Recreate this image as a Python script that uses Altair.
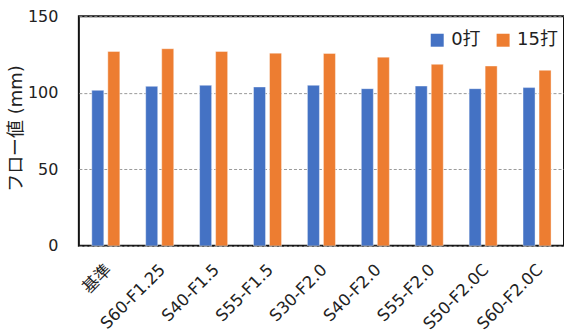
import altair as alt
import pandas as pd

# Mix designs along the x axis
categories = ["基準", "S60-F1.25", "S40-F1.5", "S55-F1.5", "S30-F2.0",
              "S40-F2.0", "S55-F2.0", "S50-F2.0C", "S60-F2.0C"]
series = ["0打", "15打"]
# Flow values (mm) for each series
flow_0 = [101.6, 104.2, 104.9, 103.8, 104.9, 102.7, 104.4, 102.7, 103.4]
flow_15 = [127.0, 128.8, 127.0, 125.9, 125.7, 123.3, 118.6, 117.5, 114.7]
y_ticks = [0, 50, 100, 150]
colors = ["#4472C4", "#ED7D31"]

rows = []
for cat, a, b in zip(categories, flow_0, flow_15):
    rows.append({"配合": cat, "系列": series[0], "フロー値": a})
    rows.append({"配合": cat, "系列": series[1], "フロー値": b})
df = pd.DataFrame(rows)

font = "'DejaVu Sans', 'Noto Sans CJK JP', sans-serif"

chart = (
    alt.Chart(df)
    .mark_bar(stroke="white", strokeWidth=0.8, strokeOpacity=0.5)
    .encode(
        x=alt.X(
            "配合:N",
            sort=categories,
            scale=alt.Scale(paddingInner=0.48, paddingOuter=0.24),
            axis=alt.Axis(
                title=None,
                labelAngle=-45,
                labelAlign="right",
                labelBaseline="middle",
                labelPadding=21,
                labelOffset=3,
                labelFontSize=16.5,
                labelColor="#222222",
                labelFont=font,
                ticks=False,
                domain=False,
                grid=False,
            ),
        ),
        xOffset=alt.XOffset(
            "系列:N", sort=series, scale=alt.Scale(paddingInner=0.25, paddingOuter=0)
        ),
        y=alt.Y(
            "フロー値:Q",
            scale=alt.Scale(domain=[0, 150], nice=False),
            axis=alt.Axis(
                title="フロー値 (mm)",
                values=y_ticks,
                labelFontSize=16,
                labelFont=font,
                labelColor="#222222",
                labelPadding=21,
                ticks=False,
                domain=False,
                grid=True,
                gridDash=[3, 2],
                gridColor="#9a9a9a",
                gridWidth=1,
                titleFont=font,
                titleFontSize=18,
                titleFontWeight="normal",
                titleColor="#222222",
                titleAngle=-90,
                titleX=-62,
                titleY=112,
                titleAlign="center",
                titleBaseline="middle",
            ),
        ),
        color=alt.Color(
            "系列:N",
            sort=series,
            scale=alt.Scale(domain=series, range=colors),
            legend=alt.Legend(
                title=None,
                orient="none",
                legendX=350,
                legendY=15,
                direction="horizontal",
                symbolType="square",
                symbolSize=169,
                symbolStrokeWidth=0,
                symbolOpacity=1,
                labelFont=font,
                labelFontSize=18,
                labelColor="#222222",
                labelOffset=5,
                columnPadding=13,
                padding=0,
            ),
        ),
    )
    .properties(
        width=486,
        height=230,
        autosize=alt.AutoSizeParams(type="none"),
        padding={"left": 79, "top": 16, "right": 0, "bottom": 90},
    )
    .configure(background="white")
    .configure_view(stroke="#111111", strokeWidth=2)
)

chart.save("out.html", embed_options={"renderer": "svg", "actions": False})
